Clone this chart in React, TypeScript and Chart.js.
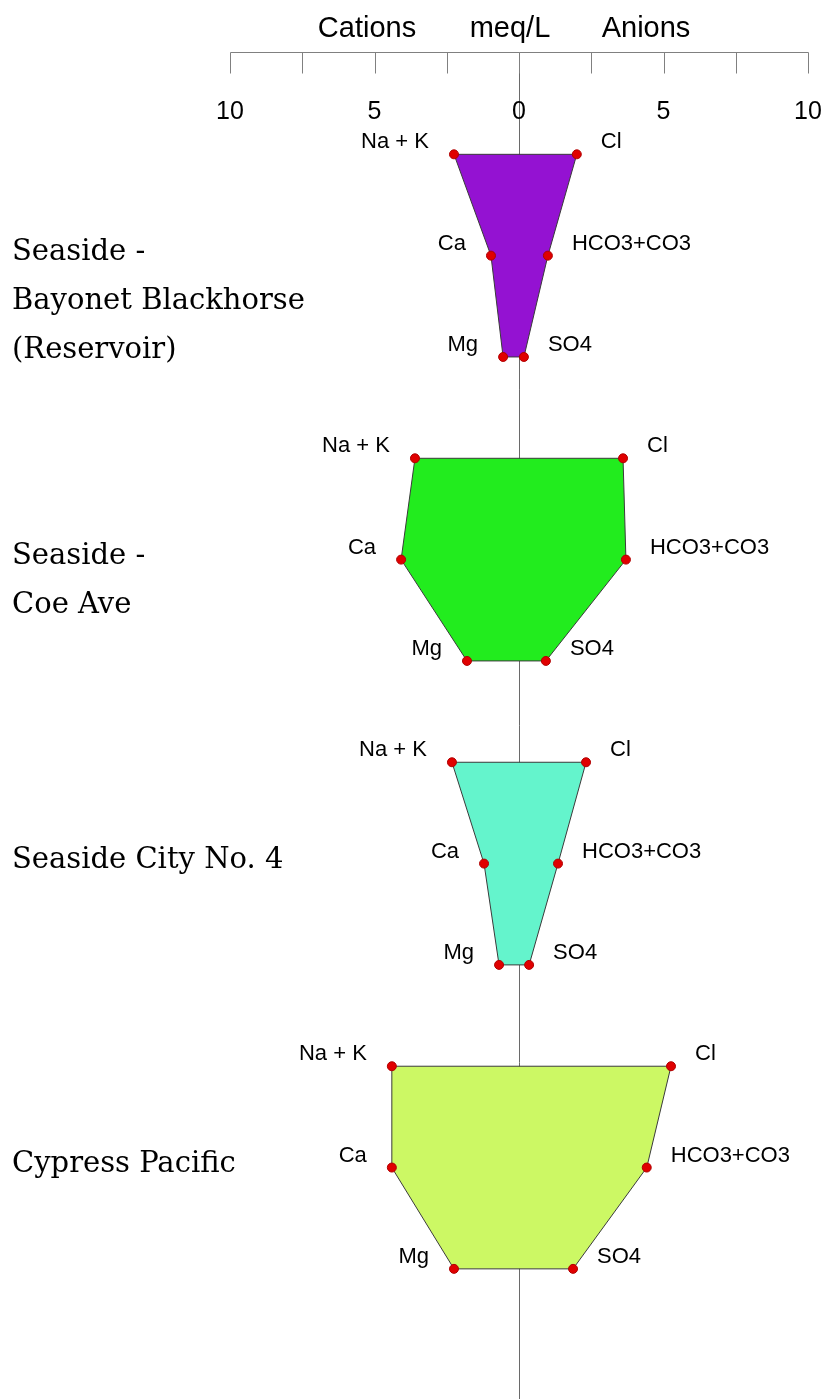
import React, { useEffect, useRef } from "react";
import { Chart, registerables } from "chart.js";

Chart.register(...registerables);

// ---- data ----
const siteNames: string[][] = [
  ["Seaside -", "Bayonet Blackhorse", "(Reservoir)"],
  ["Seaside -", "Coe Ave"],
  ["Seaside City No. 4"],
  ["Cypress Pacific"],
];
const siteColors = ["#9412d2", "#22ec1e", "#64f4cc", "#ccf864"];
// cations (meq/L), plotted to the left
const naK = [2.25, 3.6, 2.32, 4.4];
const ca = [0.97, 4.08, 1.21, 4.4];
const mg = [0.55, 1.8, 0.69, 2.25];
// anions (meq/L), plotted to the right
const cl = [2.0, 3.6, 2.32, 5.26];
const hco3 = [1.0, 3.7, 1.35, 4.42];
const so4 = [0.17, 0.93, 0.35, 1.87];
const cationLabels = ["Na + K", "Ca", "Mg"];
const anionLabels = ["Cl", "HCO3+CO3", "SO4"];
const axisTicks = [-10, -7.5, -5, -2.5, 0, 2.5, 5, 7.5, 10];
const axisTickLabels = [-10, -5, 0, 5, 10];
const axisTitle = ["Cations", "meq/L", "Anions"];

const SANS = '"Liberation Sans", Arial, sans-serif';
const SERIF = '"DejaVu Serif", serif';

function rowOf(site: number, row: number) {
  return site * 3 + row;
}

const stiffPlugin = {
  id: "stiffDecor",
  beforeDatasetsDraw(chart: any) {
    const { ctx, chartArea, scales } = chart;
    const xs = scales.x;
    const x0 = Math.round(xs.getPixelForValue(0)) + 0.5;
    const axisY = 52.5;
    ctx.save();
    // central zero line
    ctx.strokeStyle = "#6a6a6a";
    ctx.lineWidth = 1;
    ctx.beginPath();
    ctx.moveTo(x0, axisY);
    ctx.lineTo(x0, chart.height);
    ctx.stroke();
    // top axis
    ctx.strokeStyle = "#808080";
    ctx.beginPath();
    ctx.moveTo(Math.round(xs.getPixelForValue(-10)) + 0.5, axisY);
    ctx.lineTo(Math.round(xs.getPixelForValue(10)) + 0.5, axisY);
    ctx.stroke();
    ctx.beginPath();
    for (const t of axisTicks) {
      const px = Math.round(xs.getPixelForValue(t)) + 0.5;
      ctx.moveTo(px, axisY);
      ctx.lineTo(px, axisY + 21);
    }
    ctx.stroke();
    // tick labels
    ctx.fillStyle = "#000";
    ctx.font = `25px ${SANS}`;
    ctx.textAlign = "center";
    ctx.textBaseline = "alphabetic";
    for (const t of axisTickLabels) {
      ctx.fillText(String(Math.abs(t)), xs.getPixelForValue(t), axisY + 66);
    }
    // title
    ctx.font = `29px ${SANS}`;
    const offs = [-152, -9, 127];
    axisTitle.forEach((w, i) => {
      ctx.fillText(w, xs.getPixelForValue(0) + offs[i], axisY - 16);
    });
    ctx.restore();
  },
  afterDatasetsDraw(chart: any) {
    const { ctx, scales } = chart;
    const xs = scales.x;
    const ys = scales.y;
    ctx.save();
    ctx.fillStyle = "#000";
    ctx.textBaseline = "alphabetic";
    siteNames.forEach((lines, i) => {
      const cat = [naK[i], ca[i], mg[i]];
      const an = [cl[i], hco3[i], so4[i]];
      ctx.font = `22px ${SANS}`;
      for (let j = 0; j < 3; j++) {
        const py = ys.getPixelForValue(rowOf(i, j));
        ctx.textAlign = "right";
        ctx.fillText(cationLabels[j], xs.getPixelForValue(-cat[j]) - 25, py - 6);
        ctx.textAlign = "left";
        ctx.fillText(anionLabels[j], xs.getPixelForValue(an[j]) + 24, py - 6);
      }
      const mid = ys.getPixelForValue(rowOf(i, 1));
      ctx.font = `29px ${SERIF}`;
      ctx.textAlign = "left";
      lines.forEach((ln, k) => {
        ctx.fillText(ln, 12, mid + 4 + k * 49);
      });
    });
    ctx.restore();
  },
};

export default function App() {
  const ref = useRef<HTMLCanvasElement | null>(null);
  useEffect(() => {
    if (!ref.current) return;
    const datasets = siteNames.map((_, i) => {
      const pts = [
        { x: -naK[i], y: rowOf(i, 0) },
        { x: cl[i], y: rowOf(i, 0) },
        { x: hco3[i], y: rowOf(i, 1) },
        { x: so4[i], y: rowOf(i, 2) },
        { x: -mg[i], y: rowOf(i, 2) },
        { x: -ca[i], y: rowOf(i, 1) },
        { x: -naK[i], y: rowOf(i, 0) },
      ];
      return {
        data: pts,
        fill: "shape",
        backgroundColor: siteColors[i],
        borderColor: "#3a3a3a",
        borderWidth: 1,
        tension: 0,
        pointRadius: [4.5, 4.5, 4.5, 4.5, 4.5, 4.5, 0],
        pointBackgroundColor: "#e00000",
        pointBorderColor: "#b00000",
        pointBorderWidth: 1,
      };
    });
    const chart = new Chart(ref.current, {
      type: "line",
      data: { datasets: datasets as any },
      options: {
        responsive: false,
        animation: false,
        devicePixelRatio: 1,
        layout: { padding: { left: 230, right: 17, top: 53, bottom: 0 } },
        scales: {
          x: { type: "linear", min: -10, max: 10, display: false },
          y: { type: "linear", min: -1, max: 12.23, reverse: true, display: false },
        },
        plugins: { legend: { display: false }, tooltip: { enabled: false } },
        elements: { line: { clip: false } as any },
      } as any,
      plugins: [stiffPlugin],
    });
    return () => chart.destroy();
  }, []);
  return (
    <div style={{ position: "absolute", left: 0, top: 0, width: 825, height: 1399, background: "#fff" }}>
      <canvas ref={ref} width={825} height={1399} style={{ display: "block" }} />
    </div>
  );
}
